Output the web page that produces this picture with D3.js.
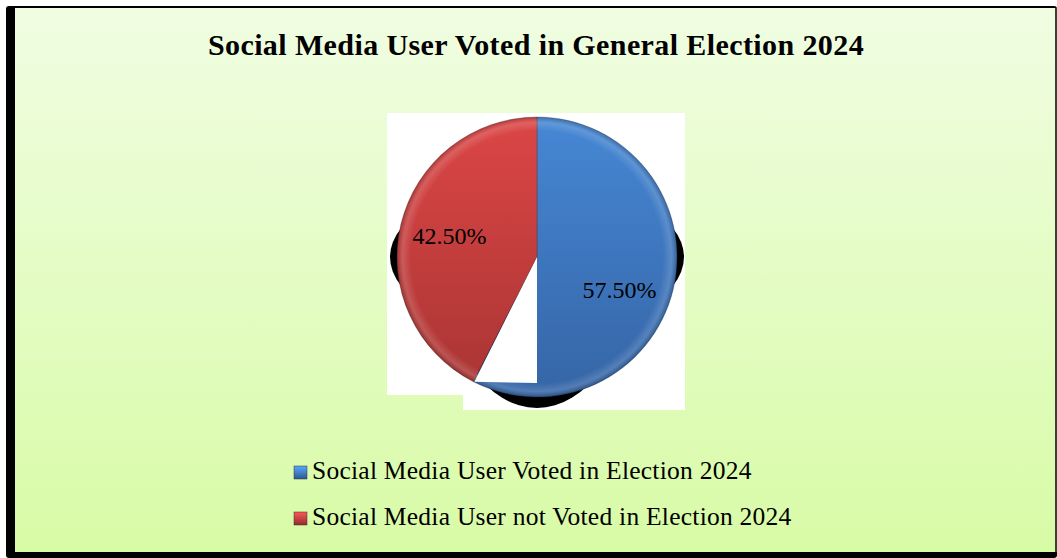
<!DOCTYPE html>
<html>
<head>
<meta charset="utf-8">
<script src="https://cdn.jsdelivr.net/npm/d3@7"></script>
<style>
  body { margin: 0; background: #ffffff; }
  svg { display: block; }
</style>
</head>
<body>
<div id="chart"></div>
<script>
// chart data
var categories = ["Social Media User Voted in Election 2024", "Social Media User not Voted in Election 2024"];
var values = [57.5, 42.5];
var labels = ["57.50%", "42.50%"];
var title = "Social Media User Voted in General Election 2024";

var svgWidth = 1057;
var svgHeight = 558;
var serif = "'Palatino Linotype', 'Book Antiqua', Palatino, 'Liberation Serif', serif";

var cx = 537, cy = 257, radius = 140;

var svg = d3.select("#chart")
    .append("svg")
    .attr("width", svgWidth)
    .attr("height", svgHeight);

var defs = svg.append("defs");

var bg = defs.append("linearGradient").attr("id", "bg")
    .attr("x1", 0).attr("y1", 0).attr("x2", 0).attr("y2", 1);
bg.append("stop").attr("offset", "0%").attr("stop-color", "#f0fde2");
bg.append("stop").attr("offset", "100%").attr("stop-color", "#d8fba6");

// slice gradients (top light, bottom dark) - in pie group coords
var sliceColors = [["#4687d4", "#3565a6"], ["#dc4646", "#a83433"]];
sliceColors.forEach(function(c, i) {
    var g = defs.append("linearGradient").attr("id", "slice" + i)
        .attr("gradientUnits", "userSpaceOnUse")
        .attr("x1", 0).attr("y1", -radius).attr("x2", 0).attr("y2", radius);
    g.append("stop").attr("offset", "0%").attr("stop-color", c[0]);
    g.append("stop").attr("offset", "100%").attr("stop-color", c[1]);
    var s = defs.append("linearGradient").attr("id", "swatch" + i)
        .attr("x1", 0).attr("y1", 0).attr("x2", 0).attr("y2", 1);
    s.append("stop").attr("offset", "0%").attr("stop-color", d3.color(c[0]).brighter(0.6));
    s.append("stop").attr("offset", "100%").attr("stop-color", d3.color(c[1]).darker(0.4));
});

var rim = defs.append("radialGradient").attr("id", "rim")
    .attr("gradientUnits", "userSpaceOnUse")
    .attr("cx", 0).attr("cy", 0).attr("r", radius);
rim.append("stop").attr("offset", "90%").attr("stop-color", "#fff").attr("stop-opacity", 0);
rim.append("stop").attr("offset", "96%").attr("stop-color", "#fff").attr("stop-opacity", 0.15);
rim.append("stop").attr("offset", "100%").attr("stop-color", "#000").attr("stop-opacity", 0.2);

// frame with dark shadow
svg.append("rect")
    .attr("x", 6).attr("y", 6)
    .attr("width", svgWidth - 6).attr("height", svgHeight - 6)
    .attr("rx", 3)
    .attr("fill", "#000");
svg.append("rect")
    .attr("x", 15).attr("y", 8)
    .attr("width", svgWidth - 17).attr("height", 544)
    .attr("fill", "url(#bg)");
svg.append("rect")
    .attr("x", svgWidth - 2).attr("y", 8)
    .attr("width", 2).attr("height", 544)
    .attr("fill", "#3a3f33");

// title
svg.append("text")
    .attr("x", 536)
    .attr("y", 55)
    .attr("text-anchor", "middle")
    .attr("font-family", serif)
    .attr("font-weight", "bold")
    .attr("font-size", 30)
    .attr("letter-spacing", 0.4)
    .attr("fill", "#000")
    .text(title);

// plot area (white)
svg.append("rect")
    .attr("x", cx - radius - 10).attr("y", cy - radius - 4)
    .attr("width", 2 * radius + 18).attr("height", 2 * radius + 2)
    .attr("fill", "#fff");
svg.append("rect")
    .attr("x", cx - 74).attr("y", cy + radius - 17)
    .attr("width", 222).attr("height", 30)
    .attr("fill", "#fff");

// shadows behind the pie
var shadow = svg.append("g").attr("fill", "#000");
shadow.append("ellipse")
    .attr("cx", cx).attr("cy", cy)
    .attr("rx", radius + 7).attr("ry", 76);
shadow.append("ellipse")
    .attr("cx", cx).attr("cy", cy + 14)
    .attr("rx", 92).attr("ry", radius - 3);

var pie = d3.pie().sort(null).value(function(d) { return d; });
var arcs = pie(values);
var arc = d3.arc().innerRadius(0).outerRadius(radius);
var labelArc = d3.arc().innerRadius(90).outerRadius(90);

var pieG = svg.append("g").attr("transform", "translate(" + cx + "," + cy + ")");

pieG.selectAll("path.slice")
    .data(arcs)
    .enter()
    .append("path")
    .attr("class", "slice")
    .attr("d", arc)
    .attr("fill", function(d, i) { return "url(#slice" + i + ")"; })
    .attr("stroke", "#2a2a2a")
    .attr("stroke-opacity", 0.35)
    .attr("stroke-width", 0.8);

pieG.selectAll("path.rim")
    .data(arcs)
    .enter()
    .append("path")
    .attr("class", "rim")
    .attr("d", arc)
    .attr("fill", "url(#rim)");

// white notch between the two slices at the bottom
var redStart = arcs[1].startAngle;
var tip = [radius * Math.sin(redStart), -radius * Math.cos(redStart)];
pieG.append("path")
    .attr("d", d3.line()([[0, 0], [0, radius * 0.9], [tip[0] + 1, tip[1]], [0, 0]]))
    .attr("fill", "#fff");

// value labels
var labelNudge = [[-5, 12], [0, 0]];
pieG.selectAll("text.val")
    .data(arcs)
    .enter()
    .append("text")
    .attr("class", "val")
    .attr("x", function(d, i) { return labelArc.centroid(d)[0] + labelNudge[i][0]; })
    .attr("y", function(d, i) { return labelArc.centroid(d)[1] + labelNudge[i][1]; })
    .attr("dy", "0.35em")
    .attr("text-anchor", "middle")
    .attr("font-family", serif)
    .attr("font-size", 24)
    .attr("fill", "#000")
    .text(function(d, i) { return labels[i]; });

// legend
var legend = svg.append("g").attr("transform", "translate(294, 466)");
var item = legend.selectAll("g")
    .data(categories)
    .enter()
    .append("g")
    .attr("transform", function(d, i) { return "translate(0," + (i * 46) + ")"; });
item.append("rect")
    .attr("width", 13).attr("height", 13)
    .attr("fill", function(d, i) { return "url(#swatch" + i + ")"; })
    .attr("stroke", "#333").attr("stroke-width", 0.5);
item.append("text")
    .attr("x", 18)
    .attr("y", 13)
    .attr("font-family", serif)
    .attr("font-size", 25.5)
    .attr("letter-spacing", 0.25)
    .attr("fill", "#000")
    .text(function(d) { return d; });
</script>
</body>
</html>
